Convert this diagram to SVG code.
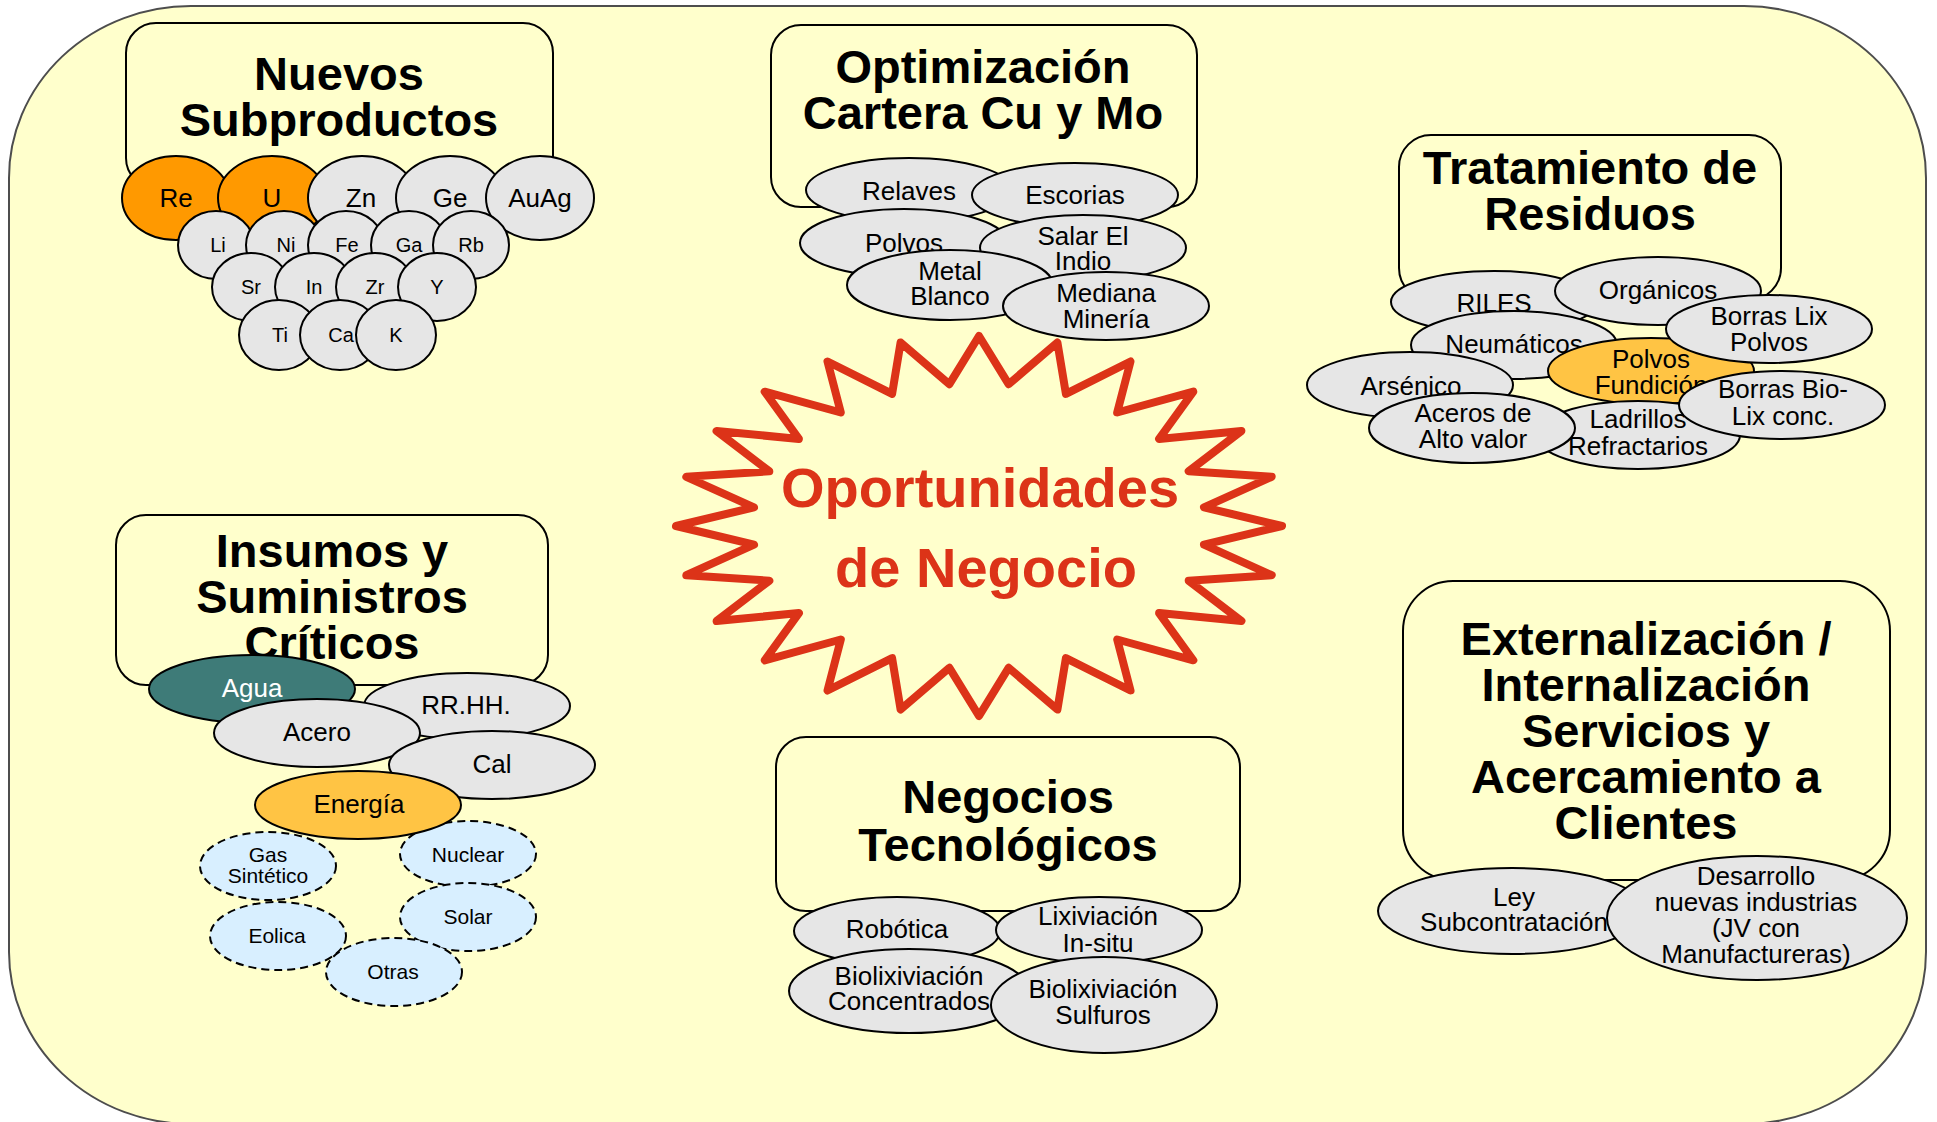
<svg xmlns="http://www.w3.org/2000/svg" width="1937" height="1122" viewBox="0 0 1937 1122">
<style>
text{font-family:"Liberation Sans",Arial,sans-serif;text-anchor:middle;fill:#000}
.box{fill:#FFFFCC;stroke:#000;stroke-width:2}
.g{fill:#E6E6E6;stroke:#000;stroke-width:2}
.o{fill:#FF9900;stroke:#000;stroke-width:2}
.y{fill:#FFC444;stroke:#000;stroke-width:2}
.t{fill:#3E7B78;stroke:#000;stroke-width:2}
.d{fill:#D8EFFF;stroke:#000;stroke-width:2;stroke-dasharray:8 5}
.ti{font-size:47px;font-weight:bold}
.l{font-size:26px}
.s{font-size:20px}
.ds{font-size:21px}
.w{fill:#fff}
.star{fill:none;stroke:#DC3318;stroke-width:8;stroke-linejoin:round}
.st{font-size:56px;font-weight:bold;fill:#DC3318}
</style>
<rect id="background" x="9" y="6" width="1917" height="1118" rx="182" ry="172" fill="#FFFFCC" stroke="#4d4d4d" stroke-width="2"/>
<g id="connectors"/>

<g id="center">
<polygon class="star" points="979,336 1008.6,384.2 1057.4,342.5 1065.9,393.9 1130.5,361.5 1117.2,412.5 1193.3,391.7 1159.1,438.9 1241.4,431 1188.7,471.3 1271.7,476.8 1204,507.3 1282,526 1204,544.7 1271.7,575.2 1188.7,580.7 1241.4,621 1159.1,613.1 1193.3,660.3 1117.2,639.5 1130.5,690.5 1065.9,658.1 1057.4,709.5 1008.6,667.8 979,716 949.4,667.8 900.6,709.5 892.1,658.1 827.5,690.5 840.8,639.5 764.7,660.3 798.9,613.1 716.6,621 769.3,580.7 686.3,575.2 754,544.7 676,526 754,507.3 686.3,476.8 769.3,471.3 716.6,431 798.9,438.9 764.7,391.7 840.8,412.5 827.5,361.5 892.1,393.9 900.6,342.5 949.4,384.2"/>
<text class="st" x="980" y="507">Oportunidades</text>
<text class="st" x="986" y="587">de Negocio</text>
</g>

<!-- Nuevos Subproductos -->
<g id="nuevos-subproductos">
<rect class="box" x="126" y="23" width="427" height="165" rx="30"/>
<text class="ti" x="339" y="90">Nuevos</text>
<text class="ti" x="339" y="136">Subproductos</text>
</g>
<g id="re"><ellipse class="o" cx="176" cy="198" rx="54" ry="42"/><text class="l" x="176" y="207">Re</text></g>
<g id="u"><ellipse class="o" cx="272" cy="198" rx="54" ry="42"/><text class="l" x="272" y="207">U</text></g>
<g id="zn"><ellipse class="g" cx="362" cy="198" rx="54" ry="42"/><text class="l" x="361" y="207">Zn</text></g>
<g id="ge"><ellipse class="g" cx="450" cy="198" rx="54" ry="42"/><text class="l" x="450" y="207">Ge</text></g>
<g id="auag"><ellipse class="g" cx="540" cy="198" rx="54" ry="42"/><text class="l" x="540" y="207">AuAg</text></g>
<g id="li"><ellipse class="g" cx="216" cy="245" rx="38" ry="34"/><text class="s" x="218" y="252">Li</text></g>
<g id="ni"><ellipse class="g" cx="284" cy="245" rx="38" ry="34"/><text class="s" x="286" y="252">Ni</text></g>
<g id="fe"><ellipse class="g" cx="346" cy="245" rx="38" ry="34"/><text class="s" x="347" y="252">Fe</text></g>
<g id="ga"><ellipse class="g" cx="409" cy="245" rx="38" ry="34"/><text class="s" x="409" y="252">Ga</text></g>
<g id="rb"><ellipse class="g" cx="471" cy="245" rx="38" ry="34"/><text class="s" x="471" y="252">Rb</text></g>
<g id="sr"><ellipse class="g" cx="251" cy="287" rx="39" ry="34"/><text class="s" x="251" y="294">Sr</text></g>
<g id="in"><ellipse class="g" cx="314" cy="287" rx="39" ry="34"/><text class="s" x="314" y="294">In</text></g>
<g id="zr"><ellipse class="g" cx="375" cy="287" rx="39" ry="34"/><text class="s" x="375" y="294">Zr</text></g>
<g id="yy"><ellipse class="g" cx="437" cy="287" rx="39" ry="34"/><text class="s" x="437" y="294">Y</text></g>
<g id="ti"><ellipse class="g" cx="279" cy="335" rx="40" ry="35"/><text class="s" x="280" y="342">Ti</text></g>
<g id="ca"><ellipse class="g" cx="340" cy="335" rx="40" ry="35"/><text class="s" x="341" y="342">Ca</text></g>
<g id="k"><ellipse class="g" cx="396" cy="335" rx="40" ry="35"/><text class="s" x="396" y="342">K</text></g>

<!-- Optimizacion -->
<g id="optimizacion">
<rect class="box" x="771" y="25" width="426" height="182" rx="30"/>
<text class="ti" x="983" y="83">Optimización</text>
<text class="ti" x="983" y="129">Cartera Cu y Mo</text>
</g>
<g id="relaves"><ellipse class="g" cx="909" cy="190" rx="103" ry="32"/><text class="l" x="909" y="200">Relaves</text></g>
<g id="escorias"><ellipse class="g" cx="1075" cy="195" rx="103" ry="32"/><text class="l" x="1075" y="204">Escorias</text></g>
<g id="polvos"><ellipse class="g" cx="904" cy="243" rx="104" ry="34"/><text class="l" x="904" y="252">Polvos</text></g>
<g id="salar"><ellipse class="g" cx="1083" cy="248" rx="103" ry="33"/><text class="l" x="1083" y="245">Salar El</text><text class="l" x="1083" y="270">Indio</text></g>
<g id="metal-blanco"><ellipse class="g" cx="950" cy="285" rx="103" ry="35"/><text class="l" x="950" y="280">Metal</text><text class="l" x="950" y="305">Blanco</text></g>
<g id="mediana"><ellipse class="g" cx="1106" cy="306" rx="103" ry="34"/><text class="l" x="1106" y="302">Mediana</text><text class="l" x="1106" y="328">Minería</text></g>

<!-- Tratamiento -->
<g id="tratamiento">
<rect class="box" x="1399" y="135" width="382" height="165" rx="32"/>
<text class="ti" x="1590" y="184">Tratamiento de</text>
<text class="ti" x="1590" y="230">Residuos</text>
</g>
<g id="riles"><ellipse class="g" cx="1494" cy="302" rx="103" ry="31"/><text class="l" x="1494" y="312">RILES</text></g>
<g id="organicos"><ellipse class="g" cx="1658" cy="291" rx="103" ry="34"/><text class="l" x="1658" y="299">Orgánicos</text></g>
<g id="neumaticos"><ellipse class="g" cx="1514" cy="345" rx="103" ry="34"/><text class="l" x="1514" y="353">Neumáticos</text></g>
<g id="polvos-fundicion"><ellipse class="y" cx="1651" cy="371" rx="103" ry="33"/><text class="l" x="1651" y="368">Polvos</text><text class="l" x="1651" y="394">Fundición</text></g>
<g id="borras-lix"><ellipse class="g" cx="1769" cy="329" rx="103" ry="34"/><text class="l" x="1769" y="325">Borras Lix</text><text class="l" x="1769" y="351">Polvos</text></g>
<g id="ladrillos"><ellipse class="g" cx="1638" cy="435" rx="102" ry="34"/><text class="l" x="1638" y="428">Ladrillos</text><text class="l" x="1638" y="455">Refractarios</text></g>
<g id="borras-biolix"><ellipse class="g" cx="1782" cy="405" rx="103" ry="34"/><text class="l" x="1783" y="398">Borras Bio-</text><text class="l" x="1783" y="425">Lix conc.</text></g>
<g id="arsenico"><ellipse class="g" cx="1410" cy="385" rx="103" ry="33"/><text class="l" x="1411" y="395">Arsénico</text></g>
<g id="aceros"><ellipse class="g" cx="1472" cy="428" rx="103" ry="35"/><text class="l" x="1473" y="422">Aceros de</text><text class="l" x="1473" y="448">Alto valor</text></g>

<!-- Insumos -->
<g id="insumos">
<rect class="box" x="116" y="515" width="432" height="170" rx="30"/>
<text class="ti" x="332" y="567">Insumos y</text>
<text class="ti" x="332" y="613">Suministros</text>
<text class="ti" x="332" y="659">Críticos</text>
</g>
<g id="agua"><ellipse class="t" cx="252" cy="689" rx="103" ry="34"/><text class="l w" x="252" y="697">Agua</text></g>
<g id="rrhh"><ellipse class="g" cx="467" cy="706" rx="103" ry="33"/><text class="l" x="466" y="714">RR.HH.</text></g>
<g id="acero"><ellipse class="g" cx="317" cy="733" rx="103" ry="34"/><text class="l" x="317" y="741">Acero</text></g>
<g id="cal"><ellipse class="g" cx="492" cy="765" rx="103" ry="34"/><text class="l" x="492" y="773">Cal</text></g>
<g id="gas"><ellipse class="d" cx="268" cy="866" rx="68" ry="34"/><text class="ds" x="268" y="862">Gas</text><text class="ds" x="268" y="883">Sintético</text></g>
<g id="nuclear"><ellipse class="d" cx="468" cy="854" rx="68" ry="33"/><text class="ds" x="468" y="862">Nuclear</text></g>
<g id="solar"><ellipse class="d" cx="468" cy="917" rx="68" ry="34"/><text class="ds" x="468" y="924">Solar</text></g>
<g id="eolica"><ellipse class="d" cx="278" cy="936" rx="68" ry="34"/><text class="ds" x="277" y="943">Eolica</text></g>
<g id="otras"><ellipse class="d" cx="394" cy="972" rx="68" ry="34"/><text class="ds" x="393" y="979">Otras</text></g>
<g id="energia"><ellipse class="y" cx="358" cy="805" rx="103" ry="34"/><text class="l" x="359" y="813">Energía</text></g>

<!-- Negocios Tecnologicos -->
<g id="negocios">
<rect class="box" x="776" y="737" width="464" height="174" rx="30"/>
<text class="ti" x="1008" y="813">Negocios</text>
<text class="ti" x="1008" y="861">Tecnológicos</text>
</g>
<g id="robotica"><ellipse class="g" cx="897" cy="931" rx="103" ry="34"/><text class="l" x="897" y="938">Robótica</text></g>
<g id="lixiviacion"><ellipse class="g" cx="1099" cy="930" rx="103" ry="33"/><text class="l" x="1098" y="925">Lixiviación</text><text class="l" x="1098" y="952">In-situ</text></g>
<g id="biolix-conc"><ellipse class="g" cx="909" cy="991" rx="120" ry="42"/><text class="l" x="909" y="985">Biolixiviación</text><text class="l" x="909" y="1010">Concentrados</text></g>
<g id="biolix-sulf"><ellipse class="g" cx="1104" cy="1005" rx="113" ry="48"/><text class="l" x="1103" y="998">Biolixiviación</text><text class="l" x="1103" y="1024">Sulfuros</text></g>

<!-- Externalizacion -->
<g id="externalizacion">
<rect class="box" x="1403" y="581" width="487" height="299" rx="50"/>
<text class="ti" x="1646" y="655">Externalización /</text>
<text class="ti" x="1646" y="701">Internalización</text>
<text class="ti" x="1646" y="747">Servicios y</text>
<text class="ti" x="1646" y="793">Acercamiento a</text>
<text class="ti" x="1646" y="839">Clientes</text>
</g>
<g id="ley"><ellipse class="g" cx="1512" cy="911" rx="134" ry="43"/><text class="l" x="1514" y="906">Ley</text><text class="l" x="1514" y="931">Subcontratación</text></g>
<g id="desarrollo"><ellipse class="g" cx="1757" cy="918" rx="150" ry="62"/><text class="l" x="1756" y="885">Desarrollo</text><text class="l" x="1756" y="911">nuevas industrias</text><text class="l" x="1756" y="937">(JV con</text><text class="l" x="1756" y="963">Manufactureras)</text></g>
</svg>
